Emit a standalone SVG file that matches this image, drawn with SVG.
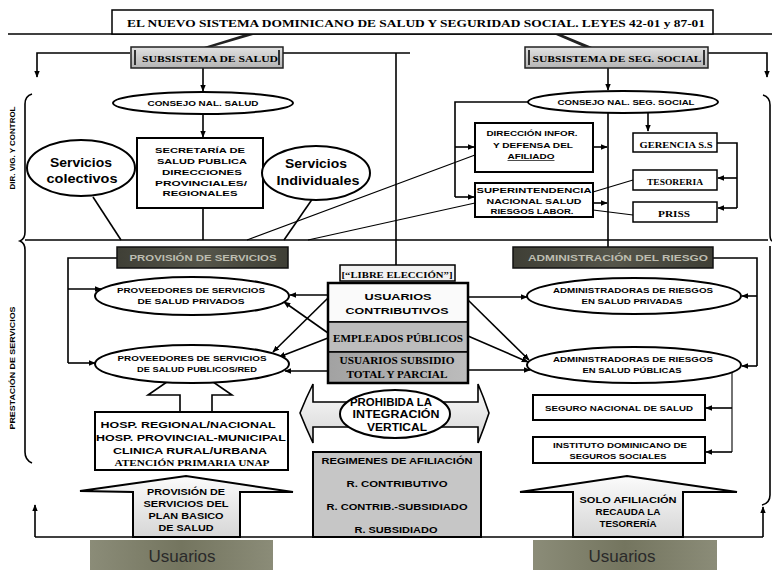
<svg xmlns="http://www.w3.org/2000/svg" width="772" height="570" viewBox="0 0 772 570">
<defs>
<marker id="ah" viewBox="0 0 10 10" refX="9" refY="5" markerWidth="7" markerHeight="7" markerUnits="userSpaceOnUse" orient="auto"><path d="M0,1 L10,5 L0,9 z" fill="#000"/></marker>
<linearGradient id="gSub" x1="0" y1="0" x2="0" y2="1"><stop offset="0" stop-color="#e2e2e2"/><stop offset="1" stop-color="#b4b4b4"/></linearGradient>
<linearGradient id="gDark" x1="0" y1="0" x2="1" y2="0"><stop offset="0" stop-color="#3f3f36"/><stop offset="0.5" stop-color="#55554a"/><stop offset="1" stop-color="#3f3f36"/></linearGradient>
<linearGradient id="gUs" x1="0" y1="0" x2="1" y2="0"><stop offset="0" stop-color="#8b8c78"/><stop offset="0.5" stop-color="#74755f"/><stop offset="1" stop-color="#8b8c78"/></linearGradient>
<linearGradient id="gArrow" x1="0" y1="0" x2="0" y2="1"><stop offset="0" stop-color="#fbfbfb"/><stop offset="1" stop-color="#d6d6d6"/></linearGradient>
<linearGradient id="gSubsid" x1="0" y1="0" x2="1" y2="0"><stop offset="0" stop-color="#a2a2a2"/><stop offset="1" stop-color="#bcbcbc"/></linearGradient>
</defs>
<style>
.ln{fill:none;stroke:#000;stroke-width:1.6}
.thin{fill:none;stroke:#000;stroke-width:1.1}
.arr{marker-end:url(#ah)}
.box{fill:#fff;stroke:#000;stroke-width:2}
.ell{fill:#fff;stroke:#000;stroke-width:2}
.sb{font-family:"Liberation Sans",Arial,sans-serif;font-weight:bold;text-anchor:middle;fill:#000}
.sf{font-family:"Liberation Serif","Times New Roman",serif;font-weight:bold;text-anchor:middle;fill:#000}
.dk{fill:url(#gDark);stroke:#111;stroke-width:1.5}
.dkt{fill:#bdbdb0}
.us{font-family:"Liberation Sans",Arial,sans-serif;font-size:17px;text-anchor:middle;fill:#2a2a2a}
</style>
<rect width="772" height="570" fill="#fff"/>

<g id="connectors">
<path class="ln" d="M8,34 H772"/>
<path d="M246,34 L204,47 L212,47 L253,35 Z" fill="#222"/>
<path d="M556,35 L584,47 L592,47 L563,35 Z" fill="#222"/>
<path class="ln arr" d="M130,53 H37 V77"/>
<path class="ln" d="M283,53 H410"/>
<path class="ln" d="M396,53 V265"/>
<path class="ln arr" d="M708,53 H767 V77"/>
<path class="ln arr" d="M203,68 V91"/>
<path class="ln arr" d="M203,114 V137"/>
<path class="ln" d="M203,208 V240"/>
<path class="ln" d="M93,197 L121,240"/>
<path class="ln" d="M313,198 L284,240"/>
<path class="thin" d="M475,155 L247,240"/>
<path class="thin" d="M475,203 L308,240"/>
<path class="ln arr" d="M608,68 V90"/>
<path class="ln" d="M608,113 V247"/>
<path class="ln arr" d="M648,110 V131"/>
<path class="ln" d="M528,102 H455 V197"/>
<path class="ln arr" d="M455,147 H474"/>
<path class="ln arr" d="M455,197 H474"/>
<path class="ln arr" d="M593,147 H607"/>
<path class="ln arr" d="M593,203 H607"/>
<path class="ln" d="M717,143 H737 V208"/>
<path class="ln arr" d="M737,178 H718"/>
<path class="ln arr" d="M737,208 H718"/>
<path class="thin" d="M593,192 L633,180"/>
<path class="thin" d="M593,210 L633,215"/>
<path class="ln" d="M25,240 H768"/>
<path class="ln" d="M32,94 Q25,96 25,104 V232 Q25,239 20,241 Q25,243 25,250 V452 Q25,460 32,463"/>
<path class="ln" d="M763,95 Q770,97 770,105 V234 Q770,240 772,241"/>
<path class="ln" d="M770,246 V495 Q770,503 762,505"/>
<path class="ln" d="M117,258 H68 V363"/>
<path class="ln arr" d="M68,289 H101"/>
<path class="ln arr" d="M68,363 H95"/>
<path class="ln arr" d="M328,295 H290"/>
<path class="ln arr" d="M328,333 L284,302"/>
<path class="ln arr" d="M328,298 L273,352"/>
<path class="ln arr" d="M328,338 L279,357"/>
<path class="ln arr" d="M328,371 H285"/>
<path class="ln arr" d="M468,297 H527"/>
<path class="ln arr" d="M468,300 L529,360"/>
<path class="ln arr" d="M468,336 L528,362"/>
<path class="ln arr" d="M468,370 H530"/>
<path class="ln" d="M713,258 H757 V366"/>
<path class="ln arr" d="M757,296 H742"/>
<path class="ln arr" d="M757,366 H742"/>
<path class="thin" d="M732,372 V452"/>
<path class="ln arr" d="M732,408 H706"/>
<path class="ln arr" d="M732,452 H706"/>
<path class="ln" d="M35,537 H763"/>
<path class="ln arr" d="M35,537 V505"/>
<path class="ln arr" d="M763,537 V507"/>
</g>

<g id="side-labels">
<text class="sb" font-size="7" transform="translate(15,148) rotate(-90)" textLength="83" lengthAdjust="spacingAndGlyphs">DIR. VIG. Y CONTROL</text>
<text class="sb" font-size="7" transform="translate(15,368) rotate(-90)" textLength="123" lengthAdjust="spacingAndGlyphs">PRESTACIÓN DE SERVICIOS</text>
</g>

<g id="title">
<rect x="112" y="10" width="601" height="24" fill="#fff" stroke="#000" stroke-width="1.5"/>
<text class="sf" x="416" y="27" font-size="11" textLength="578" lengthAdjust="spacingAndGlyphs">EL NUEVO SISTEMA DOMINICANO DE SALUD Y SEGURIDAD SOCIAL. LEYES 42-01 y 87-01</text>
</g>

<g id="subsistema-salud">
<rect x="131" y="47" width="152" height="21" fill="url(#gSub)" stroke="#222" stroke-width="1.5"/>
<path d="M135,50 V65 M279,50 V65" stroke="#333" stroke-width="2"/>
<text class="sf" x="210" y="61.5" font-size="8.5" textLength="136" lengthAdjust="spacingAndGlyphs">SUBSISTEMA DE SALUD</text>
</g>

<g id="subsistema-seg-social">
<rect x="525" y="47" width="183" height="21" fill="url(#gSub)" stroke="#222" stroke-width="1.5"/>
<path d="M529,50 V65 M704,50 V65" stroke="#333" stroke-width="2"/>
<text class="sf" x="617" y="61.5" font-size="8.5" textLength="169" lengthAdjust="spacingAndGlyphs">SUBSISTEMA DE SEG. SOCIAL</text>
</g>

<g id="consejo-salud">
<ellipse class="ell" cx="203" cy="103" rx="90" ry="11"/>
<text class="sb" x="203" y="105.5" font-size="6.5" textLength="111" lengthAdjust="spacingAndGlyphs">CONSEJO NAL. SALUD</text>
</g>

<g id="consejo-seg-social">
<ellipse class="ell" cx="623" cy="102" rx="95" ry="11"/>
<text class="sb" x="626" y="104.5" font-size="6.5" textLength="137" lengthAdjust="spacingAndGlyphs">CONSEJO NAL. SEG. SOCIAL</text>
</g>

<g id="secretaria">
<rect class="box" x="137" y="138" width="126" height="70"/>
<text class="sb" x="200" y="153" font-size="7" textLength="90" lengthAdjust="spacingAndGlyphs">SECRETARÍA DE</text>
<text class="sb" x="202" y="164" font-size="7" textLength="90" lengthAdjust="spacingAndGlyphs">SALUD PUBLICA</text>
<text class="sb" x="202" y="175" font-size="7" textLength="80" lengthAdjust="spacingAndGlyphs">DIRECCIONES</text>
<text class="sb" x="201" y="185.5" font-size="7" textLength="92" lengthAdjust="spacingAndGlyphs">PROVINCIALES/</text>
<text class="sb" x="200" y="196" font-size="7" textLength="75" lengthAdjust="spacingAndGlyphs">REGIONALES</text>
</g>

<g id="servicios-colectivos">
<ellipse class="ell" cx="81" cy="168" rx="54" ry="28"/>
<text class="sb" x="81" y="167" font-size="13.5" textLength="62" lengthAdjust="spacingAndGlyphs">Servicios</text>
<text class="sb" x="82" y="183" font-size="13.5" textLength="71" lengthAdjust="spacingAndGlyphs">colectivos</text>
</g>

<g id="servicios-individuales">
<ellipse class="ell" cx="316" cy="173" rx="54" ry="27"/>
<text class="sb" x="316" y="168" font-size="13" textLength="62" lengthAdjust="spacingAndGlyphs">Servicios</text>
<text class="sb" x="318" y="185" font-size="13" textLength="83" lengthAdjust="spacingAndGlyphs">Individuales</text>
</g>

<g id="direccion">
<rect class="box" x="475" y="123" width="118" height="49"/>
<text class="sb" x="532" y="136" font-size="7" textLength="91" lengthAdjust="spacingAndGlyphs">DIRECCIÓN  INFOR.</text>
<text class="sb" x="533" y="148" font-size="7" textLength="80" lengthAdjust="spacingAndGlyphs">Y DEFENSA DEL</text>
<text class="sb" x="531" y="159" font-size="7" textLength="47" lengthAdjust="spacingAndGlyphs" text-decoration="underline">AFILIADO</text>
</g>

<g id="superintendencia">
<rect class="box" x="475" y="183" width="118" height="34" stroke-width="2.5"/>
<text class="sb" x="534" y="193" font-size="7" textLength="115" lengthAdjust="spacingAndGlyphs">SUPERINTENDENCIA</text>
<text class="sb" x="534" y="203.5" font-size="7" textLength="95" lengthAdjust="spacingAndGlyphs">NACIONAL SALUD</text>
<text class="sb" x="532" y="214" font-size="7" textLength="83" lengthAdjust="spacingAndGlyphs">RIESGOS LABOR.</text>
</g>

<g id="gerencia">
<rect x="633" y="133" width="84" height="19" fill="#fff" stroke="#000" stroke-width="1.5"/>
<text class="sf" x="676" y="148" font-size="9" fill="#333" textLength="73" lengthAdjust="spacingAndGlyphs">GERENCIA S.S</text>
</g>

<g id="tesoreria">
<rect x="633" y="170" width="84" height="20" fill="#fff" stroke="#000" stroke-width="1.5"/>
<text class="sf" x="675" y="185" font-size="8.5" textLength="56" lengthAdjust="spacingAndGlyphs">TESORERIA</text>
</g>

<g id="priss">
<rect x="633" y="202" width="84" height="20" fill="#fff" stroke="#000" stroke-width="1.5"/>
<text class="sf" x="674" y="216.5" font-size="8.5" textLength="32" lengthAdjust="spacingAndGlyphs">PRISS</text>
</g>

<g id="provision-servicios">
<rect class="dk" x="117" y="247" width="171" height="21"/>
<text class="sb dkt" x="203" y="260.5" font-size="8.5" textLength="147" lengthAdjust="spacingAndGlyphs">PROVISIÓN DE SERVICIOS</text>
</g>

<g id="administracion-riesgo">
<rect class="dk" x="513" y="247" width="200" height="21"/>
<text class="sb dkt" x="618" y="260.5" font-size="8.5" textLength="180" lengthAdjust="spacingAndGlyphs">ADMINISTRACIÓN DEL RIESGO</text>
</g>

<g id="hosp-arrow">
<path d="M180,412 V395 H148 L190,366 L232,395 H212 V412 Z" fill="#fff" stroke="#000" stroke-width="1.6"/>
</g>

<g id="proveedores-privados">
<ellipse class="ell" cx="192" cy="296" rx="97" ry="19"/>
<text class="sb" x="191" y="292.5" font-size="6.5" textLength="148" lengthAdjust="spacingAndGlyphs">PROVEEDORES DE SERVICIOS</text>
<text class="sb" x="191" y="303.5" font-size="6.5" textLength="107" lengthAdjust="spacingAndGlyphs">DE SALUD PRIVADOS</text>
</g>

<g id="proveedores-publicos">
<ellipse class="ell" cx="192" cy="364" rx="97" ry="19"/>
<text class="sb" x="192" y="360.5" font-size="6.5" textLength="149" lengthAdjust="spacingAndGlyphs">PROVEEDORES DE SERVICIOS</text>
<text class="sb" x="197" y="372" font-size="6.5" textLength="120" lengthAdjust="spacingAndGlyphs">DE SALUD PUBLICOS/RED</text>
</g>

<g id="ars-privadas">
<ellipse class="ell" cx="634" cy="296" rx="107" ry="18"/>
<text class="sb" x="633" y="293" font-size="6.5" textLength="160" lengthAdjust="spacingAndGlyphs">ADMINISTRADORAS DE RIESGOS</text>
<text class="sb" x="632" y="303.5" font-size="6.5" textLength="101" lengthAdjust="spacingAndGlyphs">EN SALUD PRIVADAS</text>
</g>

<g id="ars-publicas">
<ellipse class="ell" cx="634" cy="365" rx="107" ry="18"/>
<text class="sb" x="633" y="362" font-size="6.5" textLength="160" lengthAdjust="spacingAndGlyphs">ADMINISTRADORAS DE RIESGOS</text>
<text class="sb" x="632" y="373" font-size="6.5" textLength="99" lengthAdjust="spacingAndGlyphs">EN SALUD PÚBLICAS</text>
</g>

<g id="libre-eleccion">
<rect x="340" y="265" width="115" height="16" fill="#f2f2f2" stroke="#000" stroke-width="1.5"/>
<text class="sf" x="397" y="277.5" font-size="9" fill="#333" textLength="111" lengthAdjust="spacingAndGlyphs">[“LIBRE ELECCIÓN”]</text>
</g>

<g id="usuarios-stack">
<rect x="328" y="283" width="140" height="39" fill="#fafafa" stroke="#000" stroke-width="1.5"/>
<rect x="328" y="322" width="140" height="30" fill="#bdbdbd" stroke="#000" stroke-width="1.5"/>
<rect x="328" y="352" width="140" height="31" fill="url(#gSubsid)" stroke="#000" stroke-width="1.5"/>
<rect x="328" y="283" width="140" height="100" fill="none" stroke="#000" stroke-width="2.5"/>
<text class="sb" x="398" y="300" font-size="9" textLength="67" lengthAdjust="spacingAndGlyphs">USUARIOS</text>
<text class="sb" x="397" y="313.5" font-size="9" textLength="103" lengthAdjust="spacingAndGlyphs">CONTRIBUTIVOS</text>
<text class="sf" x="398" y="341.5" font-size="9.5" fill="#222" textLength="130" lengthAdjust="spacingAndGlyphs">EMPLEADOS PÚBLICOS</text>
<text class="sf" x="397" y="364" font-size="9.5" fill="#222" textLength="115" lengthAdjust="spacingAndGlyphs">USUARIOS SUBSIDIO</text>
<text class="sf" x="397" y="378" font-size="9.5" fill="#222" textLength="101" lengthAdjust="spacingAndGlyphs">TOTAL Y PARCIAL</text>
</g>

<g id="prohibida">
<path d="M300,413 Q306,398 313,384 L313,402 L478,402 L478,384 Q484,398 489,413 Q484,428 478,443 L478,427 L313,427 L313,443 Q306,428 300,413 Z" fill="url(#gArrow)" stroke="#000" stroke-width="1.6"/>
<ellipse class="ell" cx="395" cy="414" rx="55" ry="24"/>
<text class="sb" x="391" y="406" font-size="10" textLength="82" lengthAdjust="spacingAndGlyphs">PROHIBIDA  LA</text>
<text class="sb" x="396" y="418" font-size="10" textLength="87" lengthAdjust="spacingAndGlyphs">INTEGRACIÓN</text>
<text class="sb" x="397" y="430.5" font-size="10" textLength="60" lengthAdjust="spacingAndGlyphs">VERTICAL</text>
</g>

<g id="hospitales">
<rect class="box" x="95" y="412" width="193" height="58"/>
<text class="sb" x="188" y="428" font-size="9" textLength="175" lengthAdjust="spacingAndGlyphs">HOSP. REGIONAL/NACIONAL</text>
<text class="sb" x="191" y="441" font-size="9" textLength="190" lengthAdjust="spacingAndGlyphs">HOSP. PROVINCIAL-MUNICIPAL</text>
<text class="sb" x="190" y="453.5" font-size="9" textLength="154" lengthAdjust="spacingAndGlyphs">CLINICA RURAL/URBANA</text>
<text class="sf" x="192" y="466" font-size="9" fill="#333" textLength="155" lengthAdjust="spacingAndGlyphs">ATENCIÓN PRIMARIA UNAP</text>
</g>

<g id="regimenes">
<rect x="313" y="452" width="168" height="85" fill="#c6c6c6" stroke="#000" stroke-width="2"/>
<text class="sb" x="397" y="463.5" font-size="8.5" textLength="151" lengthAdjust="spacingAndGlyphs">REGIMENES DE AFILIACIÓN</text>
<text class="sb" x="397" y="487" font-size="8.5" textLength="101" lengthAdjust="spacingAndGlyphs">R. CONTRIBUTIVO</text>
<text class="sb" x="397" y="510" font-size="8.5" textLength="141" lengthAdjust="spacingAndGlyphs">R. CONTRIB.-SUBSIDIADO</text>
<text class="sb" x="396" y="533" font-size="8.5" textLength="83" lengthAdjust="spacingAndGlyphs">R. SUBSIDIADO</text>
</g>

<g id="seguro-nacional">
<rect class="box" x="533" y="395" width="172" height="25"/>
<text class="sb" x="619" y="410.5" font-size="7" textLength="148" lengthAdjust="spacingAndGlyphs">SEGURO NACIONAL DE SALUD</text>
</g>

<g id="instituto">
<rect class="box" x="533" y="437" width="172" height="26"/>
<text class="sb" x="620" y="447.5" font-size="7" textLength="134" lengthAdjust="spacingAndGlyphs">INSTITUTO DOMINICANO DE</text>
<text class="sb" x="618" y="458.5" font-size="7" textLength="97" lengthAdjust="spacingAndGlyphs">SEGUROS SOCIALES</text>
</g>

<g id="provision-plan">
<path d="M80,491 L186,476 L293,492 L240,492 L240,537 L133,537 L133,492 Z" fill="url(#gArrow)" stroke="#000" stroke-width="2"/>
<text class="sb" x="186" y="495" font-size="8.5" textLength="78" lengthAdjust="spacingAndGlyphs">PROVISIÓN DE</text>
<text class="sb" x="186" y="507" font-size="8.5" textLength="85" lengthAdjust="spacingAndGlyphs">SERVICIOS DEL</text>
<text class="sb" x="186" y="519" font-size="8.5" textLength="75" lengthAdjust="spacingAndGlyphs">PLAN BASICO</text>
<text class="sb" x="186" y="531" font-size="8.5" textLength="55" lengthAdjust="spacingAndGlyphs">DE SALUD</text>
</g>

<g id="solo-afiliacion">
<path d="M520,492 L627,476 L737,492 L683,492 L683,537 L573,537 L573,492 Z" fill="url(#gArrow)" stroke="#000" stroke-width="2"/>
<text class="sb" x="628" y="503" font-size="8.5" textLength="97" lengthAdjust="spacingAndGlyphs">SOLO AFILIACIÓN</text>
<text class="sb" x="628" y="515" font-size="8.5" textLength="65" lengthAdjust="spacingAndGlyphs">RECAUDA LA</text>
<text class="sb" x="628" y="526.5" font-size="8.5" textLength="57" lengthAdjust="spacingAndGlyphs">TESORERÍA</text>
</g>

<g id="usuarios-izq">
<rect x="90" y="540" width="183" height="30" fill="url(#gUs)"/>
<text class="us" x="182" y="562">Usuarios</text>
</g>

<g id="usuarios-der">
<rect x="533" y="540" width="184" height="30" fill="url(#gUs)"/>
<text class="us" x="622" y="562">Usuarios</text>
</g>
</svg>
